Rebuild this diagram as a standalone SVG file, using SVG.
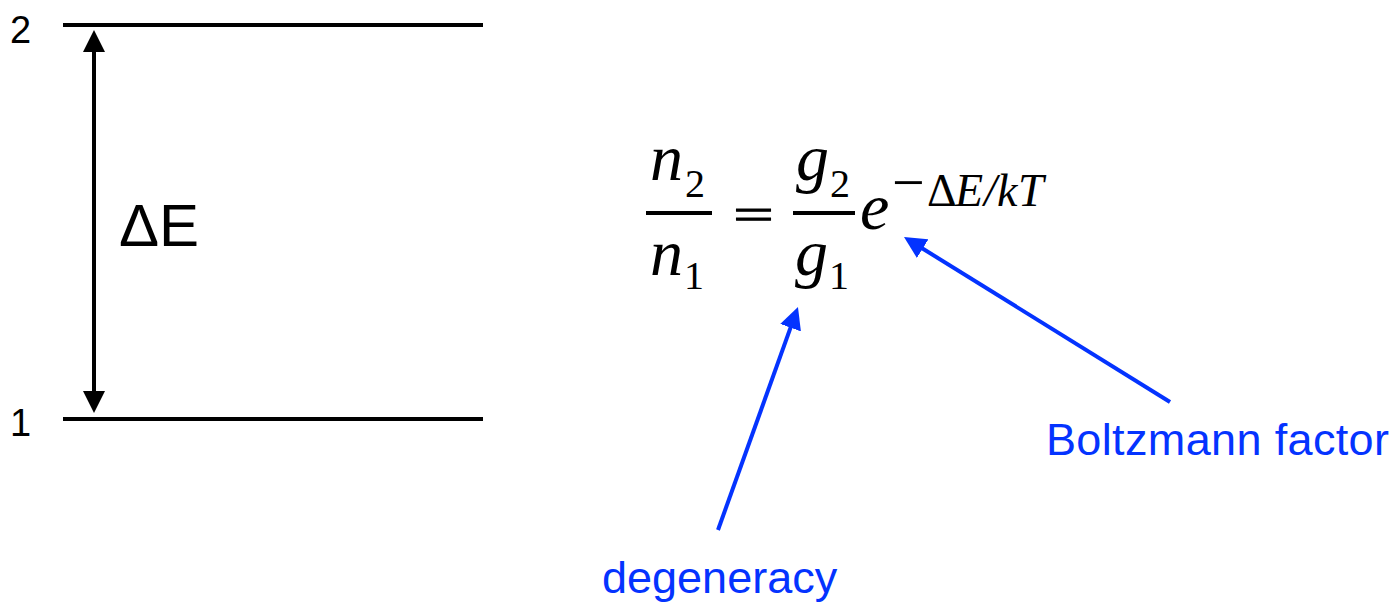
<svg xmlns="http://www.w3.org/2000/svg" width="1395" height="602" viewBox="0 0 1395 602">
  <style>
    .lvl { stroke: #000; stroke-width: 4; fill: none; }
    .lab { font-family: "Liberation Sans", Arial, sans-serif; fill: #000; }
    .blue { font-family: "Liberation Sans", Arial, sans-serif; fill: #0433ff; font-size: 45px; }
    .math { font-family: "Liberation Serif", "Times New Roman", serif; fill: #000; }
    .it { font-style: italic; }
    .bar { stroke: #000; stroke-width: 4; }
    .arrow-k { stroke: #000; stroke-width: 4; fill: none; }
    .arrow-b { stroke: #0433ff; stroke-width: 4; fill: none; }
  </style>
  <defs>
    <marker id="headK" viewBox="0 0 22 22" markerWidth="22" markerHeight="22" refX="4" refY="11" orient="auto-start-reverse" markerUnits="userSpaceOnUse">
      <path d="M0,0 L22,11 L0,22 z" fill="#000"/>
    </marker>
    <marker id="headB" viewBox="0 0 22 22" markerWidth="22" markerHeight="22" refX="4" refY="11" orient="auto" markerUnits="userSpaceOnUse">
      <path d="M0,0 L22,11 L0,22 z" fill="#0433ff"/>
    </marker>
  </defs>

  <g id="level2">
    <line class="lvl" x1="63" y1="25" x2="483" y2="25"/>
    <text class="lab" x="10" y="43" font-size="38">2</text>
  </g>
  <g id="level1">
    <line class="lvl" x1="63" y1="419" x2="483" y2="419"/>
    <text class="lab" x="10" y="436" font-size="38">1</text>
  </g>
  <g id="deltaE-label">
    <text class="lab" x="119" y="246" font-size="60">ΔE</text>
  </g>

  <g id="equation" class="math">
    <text x="650" y="180" font-size="66" class="it">n</text>
    <text x="685" y="197" font-size="40">2</text>
    <line class="bar" x1="646" y1="213" x2="712" y2="213"/>
    <text x="650" y="275" font-size="66" class="it">n</text>
    <text x="684" y="289" font-size="40">1</text>
    <text transform="translate(733,229) scale(1.1,0.68)" font-size="66" stroke="#000" stroke-width="1.2">=</text>
    <text x="796" y="180" font-size="66" class="it">g</text>
    <text x="830" y="197" font-size="40">2</text>
    <line class="bar" x1="793" y1="213" x2="855" y2="213"/>
    <text x="795" y="275" font-size="66" class="it">g</text>
    <text x="829" y="289" font-size="40">1</text>
    <text x="860" y="229" font-size="66" class="it">e</text>
    <text x="892" y="202" font-size="58">−</text>
    <text y="206" font-size="46"><tspan x="927">Δ</tspan><tspan x="955" class="it">E</tspan><tspan x="984" class="it">/</tspan><tspan x="997" class="it">k</tspan><tspan x="1018" class="it">T</tspan></text>
  </g>

  <g id="degeneracy-label">
    <text class="blue" x="602" y="593">degeneracy</text>
  </g>
  <g id="boltzmann-label">
    <text class="blue" x="1046" y="455" textLength="343" lengthAdjust="spacing">Boltzmann factor</text>
  </g>

  <g id="connectors">
    <line class="arrow-k" x1="94" y1="48" x2="94" y2="395" marker-start="url(#headK)" marker-end="url(#headK)"/>
    <line class="arrow-b" x1="718" y1="530" x2="791.9" y2="323.9" marker-end="url(#headB)"/>
    <line class="arrow-b" x1="1170" y1="402" x2="919.3" y2="246.5" marker-end="url(#headB)"/>
  </g>
</svg>
